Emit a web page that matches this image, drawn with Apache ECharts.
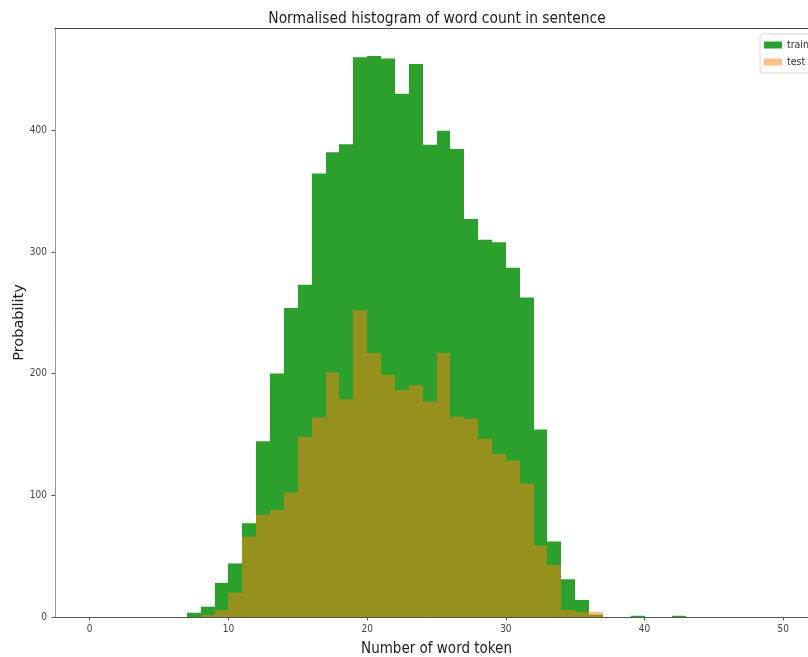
<!DOCTYPE html>
<html>
<head>
<meta charset="utf-8">
<script src="https://cdn.jsdelivr.net/npm/echarts@6/dist/echarts.min.js"></script>
<style>
html,body{margin:0;padding:0;background:#fff;}
#chart{width:808px;height:657px;}
</style>
</head>
<body>
<div id="chart"></div>
<script>
// Histogram bin left edges (bin width 1)
const binStarts = [7,8,9,10,11,12,13,14,15,16,17,18,19,20,21,22,23,24,25,26,27,28,29,30,31,32,33,34,35,36,37,38,39,40,41,42];
const trainValues = [3.5,8.5,28,44,77,144.5,200,254,273,364.5,382,388.5,460,461,459,430,454.5,388,399.5,384.5,327,310,308,287,262.5,154,62,31,14,2,0,0,1,0,0,1];
const testValues  = [0,1.6,5.7,20,66,84,88,102,148,164,201,179,252,217,199,186.5,190.5,177,217,164.5,163,146.5,134,128.5,110,58.6,42.7,5.8,4.4,4.1,0,0,0,0,0,0];
const xTickValues = [0,10,20,30,40,50];
const yTickValues = [0,100,200,300,400];
const seriesNames = ['train','test'];

const CF = "'DejaVu Sans Condensed','Liberation Sans Narrow','DejaVu Sans',sans-serif";

function toData(vals){
  return binStarts.map((s,i)=>[s, s+1, vals[i]]);
}
function renderBar(params, api){
  const x0 = api.value(0), x1 = api.value(1), h = api.value(2);
  if (!h) return null;
  const p0 = api.coord([x0, h]);
  const p1 = api.coord([x1, 0]);
  const xa = Math.round(p0[0]), xb = Math.round(p1[0]);
  return {type:'rect', shape:{x:xa, y:p0[1], width:xb-xa, height:p1[1]-p0[1]}, style: api.style()};
}

const chart = echarts.init(document.getElementById('chart'), null, {renderer:'canvas'});
chart.setOption({
  animation:false,
  backgroundColor:'#fff',
  title:{
    text:'Normalised histogram of word count in sentence',
    left:432, textAlign:'center', top:6,
    textStyle:{fontFamily:CF, fontSize:15.4, fontWeight:'normal', color:'#222'}
  },
  legend:{
    data:[{name:'train', icon:'rect'},{name:'test', icon:'rect'}],
    orient:'vertical', left:760, top:34,
    itemWidth:18, itemHeight:7, itemGap:5,
    padding:[5,4,5,4],
    borderColor:'#d8d8d8', borderWidth:1, borderRadius:3,
    backgroundColor:'rgba(255,255,255,0.8)',
    textStyle:{fontFamily:CF, fontSize:10.5, color:'#333', lineHeight:12},
    selectedMode:false
  },
  grid:{left:55, right:-10, top:28, bottom:40, containLabel:false, outerBoundsMode:'none'},
  xAxis:[{
    type:'value', min:-2.5, max:52.5, position:'bottom',
    name:'Number of word token', nameLocation:'middle', nameGap:25,
    nameTextStyle:{fontFamily:CF, fontSize:15, color:'#222'},
    axisLine:{show:true, onZero:false, lineStyle:{color:'#555', width:1}},
    axisTick:{show:true, length:3.5, customValues:xTickValues, lineStyle:{color:'#555'}},
    axisLabel:{customValues:xTickValues, margin:7, fontFamily:CF, fontSize:10, color:'#444'},
    splitLine:{show:false}
  },{
    type:'value', min:-2.5, max:52.5, position:'top',
    axisLine:{show:true, onZero:false, lineStyle:{color:'#444', width:1}},
    axisTick:{show:false}, axisLabel:{show:false}, splitLine:{show:false}
  }],
  yAxis:{
    type:'value', min:0, max:484,
    name:'Probability', nameLocation:'middle', nameGap:28, nameRotate:90, nameMoveOverlap:false,
    nameTextStyle:{fontFamily:"'DejaVu Sans',sans-serif", fontSize:14.5, color:'#222'},
    axisLine:{show:true, onZero:false, lineStyle:{color:'#999', width:1}},
    axisTick:{show:true, length:3.5, customValues:yTickValues, lineStyle:{color:'#555'}},
    axisLabel:{customValues:yTickValues, margin:8, fontFamily:CF, fontSize:10, color:'#444'},
    splitLine:{show:false}
  },
  series:[{
    name:seriesNames[0], type:'custom', renderItem:renderBar,
    encode:{x:[0,1], y:2}, data:toData(trainValues),
    itemStyle:{color:'#2ca02c'}
  },{
    name:seriesNames[1], type:'custom', renderItem:renderBar,
    encode:{x:[0,1], y:2}, data:toData(testValues),
    itemStyle:{color:'rgba(255,127,14,0.5)'}
  }]
});
</script>
</body>
</html>
